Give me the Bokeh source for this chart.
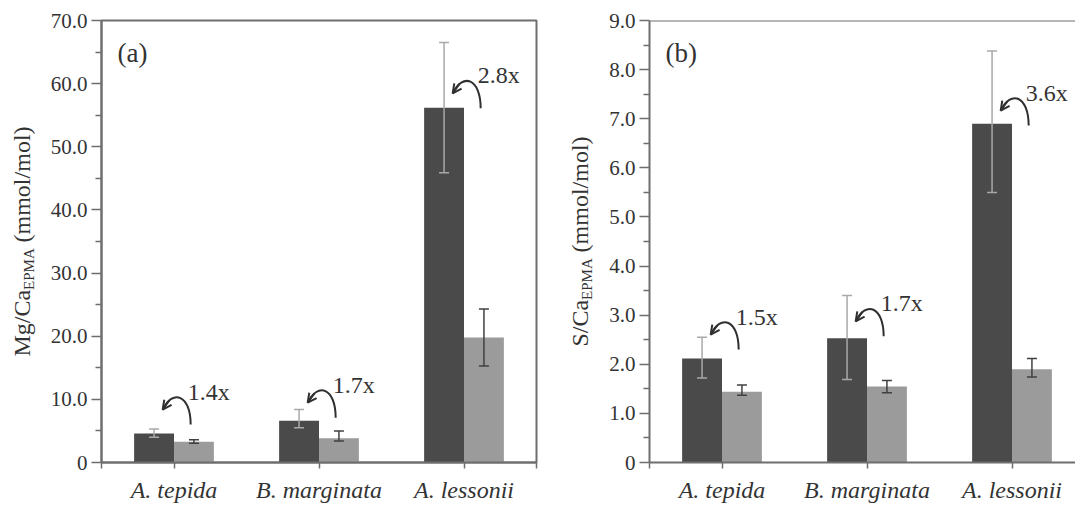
import numpy as np
from bokeh.plotting import figure
from bokeh.models import (ColumnDataSource, Range1d, FixedTicker, Whisker, TeeHead,
                          OpenHead, Arrow, Label, Span)
from bokeh.layouts import row
from bokeh.embed import file_html
from bokeh.resources import INLINE

# ---------------- data ----------------
species = ["A. tepida", "B. marginata", "A. lessonii"]

# panel (a): Mg/Ca (mmol/mol)
mg_dark = [4.6, 6.6, 56.2]
mg_dark_lo = [4.0, 5.5, 45.9]
mg_dark_hi = [5.3, 8.4, 66.5]
mg_light = [3.3, 3.85, 19.8]
mg_light_lo = [3.05, 3.4, 15.3]
mg_light_hi = [3.6, 5.0, 24.3]
mg_ratio = ["1.4x", "1.7x", "2.8x"]
mg_arrow_y = [6.0, 7.1, 56.1]

# panel (b): S/Ca (mmol/mol)
s_dark = [2.12, 2.53, 6.90]
s_dark_lo = [1.72, 1.69, 5.50]
s_dark_hi = [2.55, 3.40, 8.38]
s_light = [1.44, 1.55, 1.90]
s_light_lo = [1.37, 1.42, 1.74]
s_light_hi = [1.58, 1.67, 2.12]
s_ratio = ["1.5x", "1.7x", "3.6x"]
s_arrow_y = [2.30, 2.57, 6.86]

y_ticks_a = [0, 10, 20, 30, 40, 50, 60, 70]
y_labels_a = ["0", "10.0", "20.0", "30.0", "40.0", "50.0", "60.0", "70.0"]
y_minor_a = [5, 15, 25, 35, 45, 55, 65]
y_ticks_b = [0, 1, 2, 3, 4, 5, 6, 7, 8, 9]
y_labels_b = ["0", "1.0", "2.0", "3.0", "4.0", "5.0", "6.0", "7.0", "8.0", "9.0"]
y_minor_b = [0.5, 1.5, 2.5, 3.5, 4.5, 5.5, 6.5, 7.5, 8.5]

# ---------------- style ----------------
SERIF = "Liberation Serif"
AXIS_COL = "#6e6e6e"
TEXT_COL = "#333333"
DARK = "#4a4a4a"
LIGHT = "#9b9b9b"
H = 505
TOP = 20
FRAME_H = 443
BOTTOM = H - TOP - FRAME_H
PX_CAT = 145.0
BAR_W = 0.275

CW = {"M": 889, "g": 500, "/": 278, "C": 667, "a": 444, "S": 556, "E": 611, "P": 556,
      "A": 722, " ": 250, "(": 333, ")": 333, "m": 778, "o": 500, "l": 278}


def tw(s, size):
    return sum(CW.get(c, 500) for c in s) / 1000.0 * size


def bez(p0, p1, p2, p3, t):
    p0, p1, p2, p3 = map(np.array, (p0, p1, p2, p3))
    return ((1 - t) ** 3) * p0 + 3 * ((1 - t) ** 2) * t * p1 + 3 * (1 - t) * t * t * p2 + t ** 3 * p3


def label_fig(width, main, base_x):
    """Narrow figure holding the rotated y-axis title with a subscript.
    Its frame is aligned by the row with the panels' frames (TOP .. TOP+FRAME_H),
    so the y range is expressed in pixels measured upward from the page bottom."""
    f = figure(width=width, height=H, x_range=Range1d(0, width),
               y_range=Range1d(H - TOP - FRAME_H, H - TOP),
               title=None, output_backend="svg", toolbar_location=None, x_axis_type=None,
               y_axis_type=None, min_border=0, min_border_left=0, min_border_right=0,
               min_border_top=TOP, min_border_bottom=BOTTOM, background_fill_color="white",
               border_fill_color="white")
    f.outline_line_color = None
    f.xgrid.visible = False
    f.ygrid.visible = False
    fs, fsub = 24, 15
    w1, w2 = tw(main, fs), tw("EPMA", fsub)
    ws, w3 = tw(" ", fs), tw("(mmol/mol)", fs)
    center = H - (TOP + FRAME_H / 2)
    start = center - (w1 + w2 + ws + w3) / 2
    pieces = ((main, base_x - 0.33 * fs, start + w1 / 2, fs),
              ("EPMA", base_x + 4 - 0.33 * fsub, start + w1 + w2 / 2, fsub),
              ("(mmol/mol)", base_x - 0.33 * fs, start + w1 + w2 + ws + w3 / 2, fs))
    for txt, xx, yy, sz in pieces:
        f.add_layout(Label(x=xx, y=yy, text=txt, angle=np.pi / 2, text_font=SERIF,
                           text_font_size=f"{sz}px", text_color=TEXT_COL,
                           text_align="center", text_baseline="middle"))
    return f


def make_panel(dark, dlo, dhi, light, llo, lhi, ratios, arrow_y, y_end, yt, yl, ym,
               frame_w, bl, br, tag, full_outline):
    n = len(species)
    centers = np.arange(n) + 0.5
    x_end = frame_w / PX_CAT
    ppu = FRAME_H / y_end
    p = figure(width=bl + frame_w + br, height=H, x_range=Range1d(0, x_end),
               y_range=Range1d(0, y_end), output_backend="svg", toolbar_location=None,
               title=None, min_border_left=bl, min_border_right=br, min_border_top=TOP,
               min_border_bottom=BOTTOM, background_fill_color="white",
               border_fill_color="white")
    p.xgrid.visible = False
    p.ygrid.visible = False
    if full_outline:
        p.outline_line_color = AXIS_COL
        p.outline_line_width = 2
    else:
        p.outline_line_color = None
        p.add_layout(Span(location=y_end, dimension="width", line_color=AXIS_COL, line_width=2))

    dx = centers - BAR_W / 2
    lx = centers + BAR_W / 2
    p.vbar(x=dx, top=dark, width=BAR_W, fill_color=DARK, line_color=None)
    p.vbar(x=lx, top=light, width=BAR_W, fill_color=LIGHT, line_color=None)

    for xs, lo, hi, col in ((dx, dlo, dhi, "#a8a8a8"), (lx, llo, lhi, "#404040")):
        src = ColumnDataSource(dict(base=xs, lower=lo, upper=hi))
        p.add_layout(Whisker(source=src, base="base", lower="lower", upper="upper",
                             level="overlay", line_color=col, line_width=1.5,
                             upper_head=TeeHead(size=10, line_color=col, line_width=1.5),
                             lower_head=TeeHead(size=10, line_color=col, line_width=1.5)))

    # curved arrows + ratio labels
    P0, P1, P2, P3 = (0, 0), (0, 30), (-18, 36), (-28, 15)
    x0s, y0s, x1s, y1s, c0x, c0y, c1x, c1y = ([] for _ in range(8))
    for i in range(n):
        tx, ty = centers[i] + 0.115, arrow_y[i]
        cv = lambda pt: (tx + pt[0] / PX_CAT, ty + pt[1] / ppu)
        a, b, c, d = cv(P0), cv(P1), cv(P2), cv(P3)
        x0s.append(a[0]); y0s.append(a[1]); x1s.append(d[0]); y1s.append(d[1])
        c0x.append(b[0]); c0y.append(b[1]); c1x.append(c[0]); c1y.append(c[1])
        qs = cv(bez(P0, P1, P2, P3, 0.8))
        p.add_layout(Arrow(x_start=qs[0], y_start=qs[1], x_end=d[0], y_end=d[1],
                           line_color="#303030", line_width=2,
                           end=OpenHead(size=9, line_color="#303030", line_width=2)))
        p.add_layout(Label(x=tx - 3 / PX_CAT, y=ty + 33 / ppu, text=ratios[i],
                           text_font=SERIF, text_font_size="24px", text_color=TEXT_COL,
                           text_align="left", text_baseline="middle"))
    p.bezier(x0=x0s, y0=y0s, x1=x1s, y1=y1s, cx0=c0x, cy0=c0y, cx1=c1x, cy1=c1y,
             line_color="#303030", line_width=2)

    # panel tag
    p.add_layout(Label(x=0.11, y=y_end - 33 / ppu, text=tag, text_font=SERIF,
                       text_font_size="27px", text_color=TEXT_COL,
                       text_align="left", text_baseline="middle"))

    # axes
    ticks_x = [0.0] + list(centers) + ([3.0] if full_outline else [])
    p.xaxis.ticker = FixedTicker(ticks=ticks_x)
    ov = {float(c): s for c, s in zip(centers, species)}
    ov[0.0] = ""
    ov[3.0] = ""
    p.xaxis.major_label_overrides = ov
    p.xaxis.major_label_text_font = SERIF
    p.xaxis.major_label_text_font_style = "italic"
    p.xaxis.major_label_text_font_size = "24px"
    p.xaxis.major_label_text_color = TEXT_COL
    p.xaxis.major_label_standoff = 8
    p.xaxis.major_tick_out = 6
    p.xaxis.major_tick_in = 0
    p.xaxis.minor_tick_out = 0
    p.xaxis.minor_tick_in = 0

    p.yaxis.ticker = FixedTicker(ticks=yt, minor_ticks=ym)
    p.yaxis.major_label_overrides = {float(t): s for t, s in zip(yt, yl)}
    p.yaxis.major_label_text_font = SERIF
    p.yaxis.major_label_text_font_size = "21px"
    p.yaxis.major_label_text_color = TEXT_COL
    p.yaxis.major_label_standoff = 4
    p.yaxis.major_tick_out = 10
    p.yaxis.major_tick_in = 0
    p.yaxis.minor_tick_out = 6
    p.yaxis.minor_tick_in = 0

    for ax in (p.xaxis, p.yaxis):
        ax.axis_line_color = AXIS_COL
        ax.axis_line_width = 2
        ax.major_tick_line_color = AXIS_COL
        ax.major_tick_line_width = 1.5
        ax.minor_tick_line_color = AXIS_COL
        ax.minor_tick_line_width = 1.5
    return p


lab_a = label_fig(46, "Mg/Ca", 29)
pa = make_panel(mg_dark, mg_dark_lo, mg_dark_hi, mg_light, mg_light_lo, mg_light_hi,
                mg_ratio, mg_arrow_y, 70, y_ticks_a, y_labels_a, y_minor_a,
                435, 55, 20, "(a)", True)
lab_b = label_fig(48, "S/Ca", 31)
pb = make_panel(s_dark, s_dark_lo, s_dark_hi, s_light, s_light_lo, s_light_hi,
                s_ratio, s_arrow_y, 9, y_ticks_b, y_labels_b, y_minor_b,
                426, 45, 0, "(b)", False)

layout = row(lab_a, pa, lab_b, pb, spacing=0)
open("out.html", "w").write(file_html(layout, INLINE))
